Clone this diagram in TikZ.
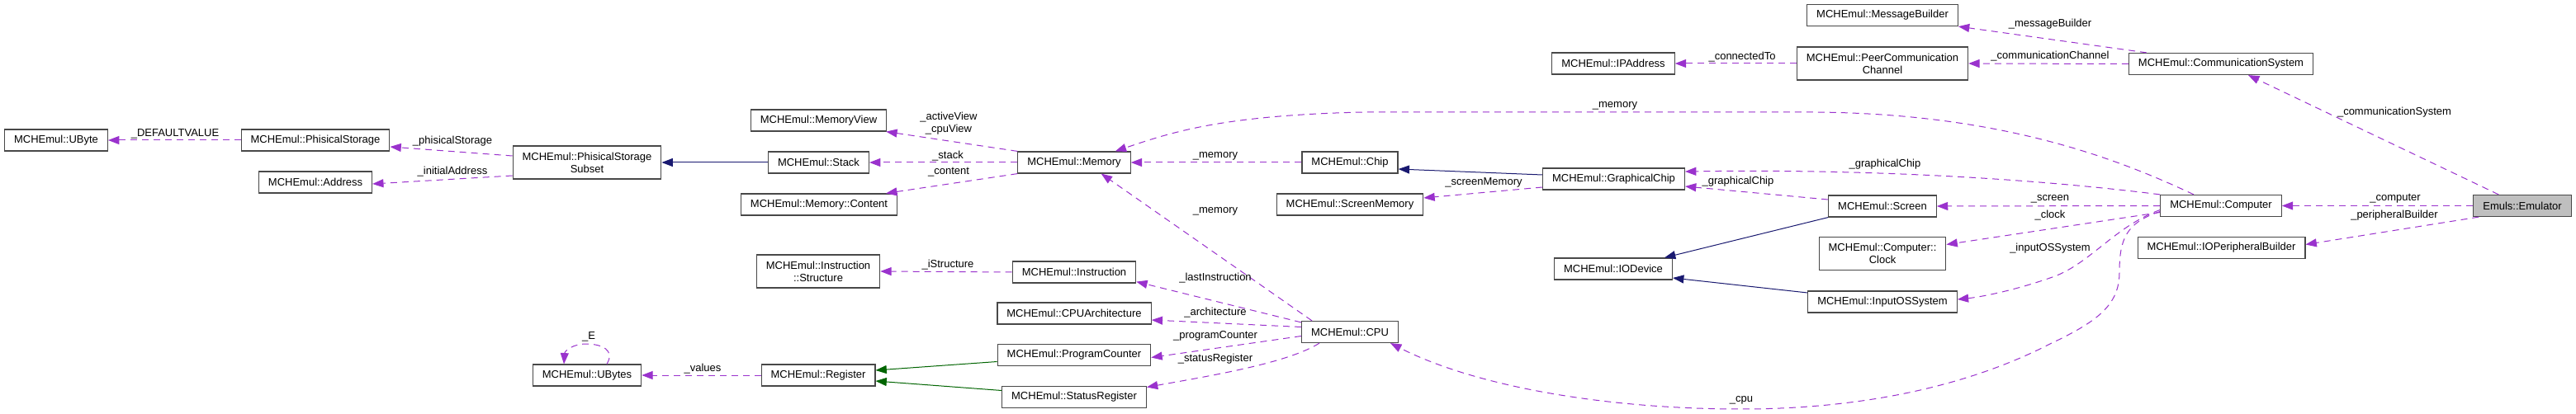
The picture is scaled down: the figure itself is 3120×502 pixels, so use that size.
\documentclass[tikz,border=0pt]{standalone}
\usepackage{fontspec}
\setmainfont{Liberation Sans}
\usetikzlibrary{arrows.meta,calc}
\definecolor{edgep}{HTML}{9A32CD}
\definecolor{inhb}{HTML}{191970}
\definecolor{inhg}{HTML}{006400}
\definecolor{bord}{HTML}{484848}
\definecolor{emfill}{HTML}{BFBFBF}
\begin{document}
\begin{tikzpicture}[x=0.75pt,y=-0.75pt,
  box/.style={draw=bord,line width=0.9pt,fill=white,inner xsep=8.6pt,inner ysep=0pt,
    minimum height=19.5pt,font=\fontsize{9.75}{11.25}\selectfont,align=center},
  box2/.style={box,minimum height=30pt},
  use/.style={draw=edgep,line width=0.75pt,dash pattern=on 6pt off 4.5pt,
    -{Triangle[length=10pt,width=7.5pt]}},
  inhn/.style={draw=inhb,line width=0.75pt,-{Triangle[length=10pt,width=7.5pt]}},
  inhgr/.style={draw=inhg,line width=0.75pt,-{Triangle[length=10pt,width=7.5pt]}},
  lbl/.style={font=\fontsize{9.75}{11.25}\selectfont,inner sep=0pt,align=center}]
\fill[white] (0,0) rectangle (3120,502);
\useasboundingbox (0,0) rectangle (3120,502);

% nodes
\node[box] (UByte) at (68,170) {MCHEmul::UByte};
\node[box] (PS) at (382,170) {MCHEmul::PhisicalStorage};
\node[box] (Address) at (382,221) {MCHEmul::Address};
\node[box2] (PSS) at (711,197) {MCHEmul::PhisicalStorage\\Subset};
\node[box] (MemoryView) at (991.5,146) {MCHEmul::MemoryView};
\node[box] (Stack) at (991.5,197) {MCHEmul::Stack};
\node[box] (Content) at (992,248) {MCHEmul::Memory::Content};
\node[box] (Memory) at (1301,197) {MCHEmul::Memory};
\node[box2] (InstrStruct) at (991,329) {MCHEmul::Instruction\\::Structure};
\node[box] (UBytes) at (711,455) {MCHEmul::UBytes};
\node[box] (Register) at (991,455) {MCHEmul::Register};
\node[box] (Instruction) at (1301,330) {MCHEmul::Instruction};
\node[box] (CPUArch) at (1301,380) {MCHEmul::CPUArchitecture};
\node[box] (PC) at (1301,430.5) {MCHEmul::ProgramCounter};
\node[box] (SR) at (1301,481.5) {MCHEmul::StatusRegister};
\node[box] (CPU) at (1635,402.5) {MCHEmul::CPU};
\node[box] (Chip) at (1635,197) {MCHEmul::Chip};
\node[box] (ScreenMemory) at (1635,248) {MCHEmul::ScreenMemory};
\node[box] (GC) at (1954.5,217) {MCHEmul::GraphicalChip};
\node[box] (IODevice) at (1954,326) {MCHEmul::IODevice};
\node[box] (IPAddress) at (1954,77) {MCHEmul::IPAddress};
\node[box] (MessageBuilder) at (2280,18.5) {MCHEmul::MessageBuilder};
\node[box2] (PCC) at (2280,77) {MCHEmul::PeerCommunication\\Channel};
\node[box] (Screen) at (2280,250) {MCHEmul::Screen};
\node[box2] (Clock) at (2280,307.5) {MCHEmul::Computer::\\Clock};
\node[box] (InputOS) at (2280,366) {MCHEmul::InputOSSystem};
\node[box] (CommSys) at (2690,77.5) {MCHEmul::CommunicationSystem};
\node[box] (Computer) at (2690,249.5) {MCHEmul::Computer};
\node[box] (IOPB) at (2690.5,300.5) {MCHEmul::IOPeripheralBuilder};
\node[box,fill=emfill] (Emulator) at (3055,249.5) {Emuls::Emulator};

% edges
\draw[use] (PS.west) -- (UByte.east);
\node[lbl] at (212,162) {\_DEFAULTVALUE};
\draw[use] ($(PSS.west)+(0,-8)$) -- ($(PS.east)+(0,8)$);
\node[lbl] at (548,171) {\_phisicalStorage};
\draw[use] ($(PSS.west)+(0,16)$) -- ($(Address.east)+(0,2)$);
\node[lbl] at (548,208) {\_initialAddress};
\draw[inhn] (Stack.west) -- (PSS.east);

\draw[use] (Memory.north west) -- ($(MemoryView.south east)+(-1,0)$);
\node[lbl] at (1149,150) {\_activeView\\\_cpuView};
\draw[use] (Memory.west) -- (Stack.east);
\node[lbl] at (1148,189) {\_stack};
\draw[use] (Memory.south west) -- ($(Content.north east)+(-14,0)$);
\node[lbl] at (1149,209) {\_content};

\draw[use] (Chip.west) -- (Memory.east);
\node[lbl] at (1472,189) {\_memory};
\draw[use] ($(CPU.north west)+(13,0)$) -- ($(Memory.south east)+(-36,0)$);
\node[lbl] at (1472,256) {\_memory};
\draw[use] ($(Computer.north)+(-33,0)$) .. controls (2560,190) and (2420,138) .. (2200,136)
  -- (1650,136) .. controls (1480,140) and (1420,160) .. ($(Memory.north east)+(-19,0)$);
\node[lbl] at (1956,128) {\_memory};

\draw[use] (Instruction.west) -- (InstrStruct.east);
\node[lbl] at (1148,321) {\_iStructure};
\draw[use] ($(CPU.north west)+(0,2)$) -- ($(Instruction.south east)+(0,-2)$);
\node[lbl] at (1472,337) {\_lastInstruction};
\draw[use] ($(CPU.west)+(0,-6)$) -- ($(CPUArch.east)+(0,8)$);
\node[lbl] at (1472,379) {\_architecture};
\draw[use] ($(CPU.west)+(0,5)$) -- ($(PC.east)+(0,3)$);
\node[lbl] at (1472,407) {\_programCounter};
\draw[use] ($(CPU.south west)+(22,0)$) .. controls (1560,440) and (1470,455) .. ($(SR.east)+(0,-12)$);
\node[lbl] at (1472,435) {\_statusRegister};

\draw[use] (Register.west) -- (UBytes.east);
\node[lbl] at (851,447) {\_values};
\draw[use] ($(UBytes.north)+(24,0)$) .. controls (745,425) and (730,417) .. (709,417)
  .. controls (695,417) and (684,425) .. ($(UBytes.north)+(-28,0)$);
\node[lbl] at (713,408) {\_E};
\draw[inhgr] ($(PC.west)+(0,8)$) -- ($(Register.east)+(0,-6)$);
\draw[inhgr] ($(SR.west)+(0,-8)$) -- ($(Register.east)+(0,7)$);

\draw[inhn] ($(GC.west)+(0,-5)$) -- ($(Chip.east)+(0,8)$);
\draw[use] ($(GC.west)+(0,10)$) -- ($(ScreenMemory.east)+(0,-8)$);
\node[lbl] at (1797,221) {\_screenMemory};
\draw[use] (Computer.north west) .. controls (2450,215) and (2250,205) .. ($(GC.east)+(0,-9)$);
\node[lbl] at (2283,199) {\_graphicalChip};
\draw[use] ($(Screen.west)+(0,-8)$) -- ($(GC.east)+(0,9)$);
\node[lbl] at (2105,220) {\_graphicalChip};
\draw[inhn] (Screen.south west) -- ($(IODevice.north east)+(-10,0)$);
\draw[inhn] ($(InputOS.west)+(0,-11)$) -- ($(IODevice.east)+(0,11)$);

\draw[use] (Computer.west) -- (Screen.east);
\node[lbl] at (2483,241) {\_screen};
\draw[use] ($(Computer.west)+(0,8)$) -- ($(Clock.east)+(0,-11)$);
\node[lbl] at (2483,261) {\_clock};
\draw[use] ($(Computer.west)+(0,5)$) .. controls (2560,275) and (2530,322) .. (2483,337)
  .. controls (2440,352) and (2400,360) .. ($(InputOS.east)+(0,-3)$);
\node[lbl] at (2483,301) {\_inputOSSystem};
\draw[use] ($(Computer.west)+(0,7)$) .. controls (2575,270) and (2567,290) .. (2567,330)
  .. controls (2567,370) and (2540,390) .. (2483,417)
  .. controls (2380,470) and (2250,496) .. (2109,496)
  .. controls (1950,496) and (1790,470) .. ($(CPU.south east)+(-10,0)$);
\node[lbl] at (2109,485) {\_cpu};

\draw[use] (Emulator.west) -- (Computer.east);
\node[lbl] at (2901,241) {\_computer};
\draw[use] ($(Emulator.south west)+(7,0)$) -- ($(IOPB.east)+(0,-4)$);
\node[lbl] at (2900,261) {\_peripheralBuilder};
\draw[use] ($(Emulator.north west)+(31,0)$) -- ($(CommSys.south)+(33,0)$);
\node[lbl] at (2900,136) {\_communicationSystem};

\draw[use] (CommSys.west) -- (PCC.east);
\node[lbl] at (2483,68) {\_communicationChannel};
\draw[use] ($(CommSys.north west)+(22,0)$) -- (MessageBuilder.south east);
\node[lbl] at (2483,29) {\_messageBuilder};
\draw[use] (PCC.west) -- (IPAddress.east);
\node[lbl] at (2110,69) {\_connectedTo};
\end{tikzpicture}
\end{document}
